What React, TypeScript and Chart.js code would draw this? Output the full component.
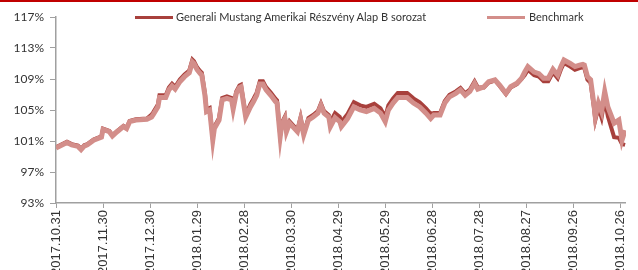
import React, { useEffect, useRef } from 'react';
import { Chart, registerables } from 'chart.js';

Chart.register(...registerables);

// days elapsed since 2017.10.31
const dayOffsets = [0,7,10,14,16,18,20,24,29,30,34,36,39,43,45,47,51,58,61,62,65,66,70,72,74,76,79,82,85,87,88,90,92,93,95,96,98,100,101,104,106,109,112,113,115,117,118,121,124,126,128,130,132,134,137,140,141,143,144,146,147,149,151,154,156,158,161,164,167,169,171,174,175,178,181,182,186,190,194,198,203,207,210,212,215,218,224,228,232,236,239,241,245,248,251,255,258,261,264,267,269,273,276,280,283,287,290,294,297,299,301,305,308,311,314,317,320,322,324,328,331,334,336,337,339,341,343,344,346,348,350,352,356,359,361,363];

const fundValues = [100.2,100.9,100.6,100.4,100.0,100.45,100.6,101.2,101.6,102.6,102.3,101.75,102.3,102.95,102.7,103.6,103.8,103.9,104.4,104.7,105.7,106.9,106.9,107.9,108.4,108.0,108.95,109.6,110.1,111.5,111.3,110.5,110.0,109.8,107.15,105.05,105.25,101.35,102.85,103.95,106.55,106.75,106.55,105.35,107.4,108.15,108.25,104.35,105.75,106.45,107.25,108.7,108.7,107.95,107.25,106.45,106.25,101.8,103.35,104.15,102.45,103.55,103.1,102.45,104.05,102.05,103.95,104.35,104.85,105.85,104.85,104.35,103.45,104.6,104.1,103.45,104.5,106.0,105.6,105.4,105.8,105.2,104.1,105.6,106.5,107.2,107.2,106.5,106.0,105.2,104.5,104.6,104.6,106.15,106.95,107.4,107.85,107.15,107.65,108.7,107.95,107.9,108.55,108.8,108.1,107.05,107.9,108.35,109.0,109.5,110.2,109.5,109.3,108.7,108.7,109.85,109.1,110.2,111.05,110.6,110.2,110.4,110.5,110.4,108.9,108.5,105.5,103.7,105.3,104.0,106.4,104.2,101.5,101.4,100.6,100.5];

const benchmarkValues = [100.1,100.8,100.5,100.3,99.9,100.35,100.5,101.1,101.5,102.5,102.2,101.65,102.2,102.85,102.6,103.5,103.7,103.8,104.1,104.4,105.4,106.6,106.6,107.6,108.1,107.7,108.65,109.3,109.8,111.2,111.0,110.2,109.7,109.5,106.9,104.8,105.0,101.1,102.6,103.7,106.3,106.5,106.3,105.1,107.15,107.9,108.0,104.1,105.4,106.1,106.9,108.35,108.35,107.6,106.9,106.1,105.9,101.55,103.1,103.9,102.2,103.3,102.85,102.2,103.8,101.8,103.7,104.1,104.6,105.6,104.6,104.1,102.85,104.0,103.5,102.85,103.9,105.4,105.0,104.8,105.2,104.6,103.5,105.0,105.9,106.6,106.6,105.9,105.4,104.6,103.9,104.35,104.35,105.9,106.7,107.15,107.6,106.9,107.4,108.45,107.7,108.0,108.65,108.9,108.2,107.15,108.0,108.45,109.1,109.9,110.6,109.9,109.7,109.1,109.1,110.25,109.5,110.6,111.45,111.0,110.6,110.8,110.9,110.8,109.3,108.9,105.9,104.1,105.9,104.8,107.4,105.4,103.3,103.7,101.1,102.4];

const tickDays = [0,30,60,90,120,150,180,210,240,270,300,330,360];
const tickLabels = ['2017.10.31','2017.11.30','2017.12.30','2018.01.29','2018.02.28','2018.03.30','2018.04.29','2018.05.29','2018.06.28','2018.07.28','2018.08.27','2018.09.26','2018.10.26'];
const yTicks = [93, 97, 101, 105, 109, 113, 117];
const seriesNames = ['Generali Mustang Amerikai Részvény Alap B sorozat', 'Benchmark'];

const FUND = '#A8403C';
const BENCH = '#D38E8A';
const AXIS = '#A0A0A0';
const TEXT = '#333333';

export default function App() {
  const ref = useRef<HTMLCanvasElement>(null);
  useEffect(() => {
    document.body.style.margin = '0';
    const chart = new Chart(ref.current!, {
      type: 'line',
      data: {
        datasets: [
          {
            label: seriesNames[0],
            data: dayOffsets.map((d, i) => ({ x: d, y: fundValues[i] })),
            borderColor: FUND,
            borderWidth: 4,
            pointRadius: 0,
            order: 2,
          },
          {
            label: seriesNames[1],
            data: dayOffsets.map((d, i) => ({ x: d, y: benchmarkValues[i] })),
            borderColor: BENCH,
            borderWidth: 5,
            pointRadius: 0,
            order: 1,
          },
        ],
      },
      options: {
        animation: false,
        responsive: false,
        maintainAspectRatio: false,
        layout: { padding: { top: 17, right: 1, left: 0, bottom: 0 } },
        plugins: { legend: { display: false }, tooltip: { enabled: false } },
        scales: {
          x: {
            type: 'linear',
            min: 0,
            max: 363.5,
            afterBuildTicks: (s: any) => { s.ticks = tickDays.map((v) => ({ value: v })); },
            afterFit: (s: any) => { s.height = 67; },
            ticks: {
              autoSkip: false,
              minRotation: 90,
              maxRotation: 90,
              padding: 2,
              color: TEXT,
              font: { family: 'Liberation Sans', size: 13 },
              callback: (_v: any, i: number) => tickLabels[i],
            },
            grid: { drawOnChartArea: false, tickLength: 5, color: AXIS, tickWidth: 1 },
            border: { color: AXIS, width: 1.5 },
          },
          y: {
            min: 93,
            max: 117,
            afterBuildTicks: (s: any) => { s.ticks = yTicks.map((v) => ({ value: v })); },
            afterFit: (s: any) => { s.width = 56; },
            ticks: {
              padding: 6,
              color: TEXT,
              font: { family: 'Lato', size: 12 },
              callback: (v: any) => v + '%',
            },
            grid: { drawOnChartArea: false, tickLength: 6, color: AXIS, tickWidth: 1 },
            border: { color: AXIS, width: 1.5 },
          },
        },
      },
    });
    return () => chart.destroy();
  }, []);

  const legendText: React.CSSProperties = {
    position: 'absolute',
    top: 10,
    fontFamily: 'Lato',
    fontSize: 11,
    color: TEXT,
    whiteSpace: 'nowrap',
    lineHeight: '14px',
  };
  return (
    <div style={{ position: 'relative', width: 638, height: 270, overflow: 'hidden', background: '#fff' }}>
      <canvas ref={ref} width={638} height={270} style={{ display: 'block' }} />
      <div style={{ position: 'absolute', left: 0, top: 0, width: 638, height: 2, background: '#C00000' }} />
      <div style={{ position: 'absolute', left: 135, top: 16, width: 38, height: 3, background: FUND }} />
      <div style={{ ...legendText, left: 176 }}>{seriesNames[0]}</div>
      <div style={{ position: 'absolute', left: 487, top: 16, width: 38, height: 3, background: BENCH }} />
      <div style={{ ...legendText, left: 529 }}>{seriesNames[1]}</div>
    </div>
  );
}
